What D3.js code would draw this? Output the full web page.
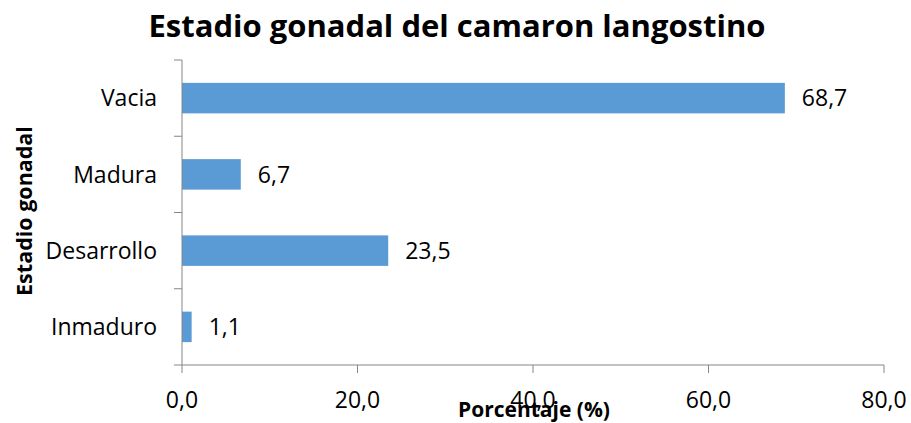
<!DOCTYPE html>
<html>
<head>
<meta charset="utf-8">
<script src="https://cdn.jsdelivr.net/npm/d3@7"></script>
<style>
  body { margin: 0; background: #fff; }
  text { font-family: "Open Sans", "Noto Sans", sans-serif; }
</style>
</head>
<body>
<div id="root"></div>
<script>
// chart data
let categories = ["Vacia", "Madura", "Desarrollo", "Inmaduro"];
let values = [68.7, 6.7, 23.5, 1.1];
let xTicks = [0, 20, 40, 60, 80];

let width = 911, height = 423;
let margin = { top: 60, right: 27, bottom: 58, left: 182 };
let axisColor = "#868686";
let barColor = "#5b9bd5";
let fmt = v => v.toFixed(1).replace(".", ",");

let svg = d3.select("#root").append("svg")
    .attr("width", width)
    .attr("height", height);

let x = d3.scaleLinear()
    .domain([0, 80])
    .range([margin.left, width - margin.right]);

let y = d3.scaleBand()
    .domain(categories)
    .range([margin.top, height - margin.bottom])
    .padding(0);

// title
svg.append("text")
    .attr("x", 457)
    .attr("y", 37)
    .attr("text-anchor", "middle")
    .style("font-weight", "bold")
    .style("font-size", "31px")
    .text("Estadio gonadal del camaron langostino");

// bars
let barH = y.bandwidth() * 0.4;
svg.selectAll(".bar")
    .data(categories)
    .enter().append("rect")
    .attr("class", "bar")
    .attr("x", x(0))
    .attr("y", d => y(d) + (y.bandwidth() - barH) / 2)
    .attr("width", (d, i) => x(values[i]) - x(0))
    .attr("height", barH)
    .style("fill", barColor);

// value labels
svg.selectAll(".val")
    .data(categories)
    .enter().append("text")
    .attr("class", "val")
    .attr("x", (d, i) => x(values[i]) + 17)
    .attr("y", d => y(d) + y.bandwidth() / 2)
    .attr("dy", "0.36em")
    .style("font-size", "23px")
    .style("fill", "#000")
    .text((d, i) => fmt(values[i]));

// y axis
let yAxis = svg.append("g")
    .attr("transform", "translate(" + margin.left + ",0)");
yAxis.append("line")
    .attr("x1", 0).attr("x2", 0)
    .attr("y1", margin.top).attr("y2", height - margin.bottom)
    .style("stroke", axisColor);
let yTickPos = categories.map(d => y(d)).concat([height - margin.bottom]);
yAxis.selectAll(".ytick")
    .data(yTickPos)
    .enter().append("line")
    .attr("x1", -8).attr("x2", 0)
    .attr("y1", d => d).attr("y2", d => d)
    .style("stroke", axisColor);
yAxis.selectAll(".ylab")
    .data(categories)
    .enter().append("text")
    .attr("x", -25)
    .attr("y", d => y(d) + y.bandwidth() / 2)
    .attr("dy", "0.36em")
    .attr("text-anchor", "end")
    .style("font-size", "23px")
    .text(d => d);

// x axis
let xAxis = svg.append("g")
    .attr("transform", "translate(0," + (height - margin.bottom) + ")");
xAxis.append("line")
    .attr("x1", x(0)).attr("x2", x(80))
    .attr("y1", 0).attr("y2", 0)
    .style("stroke", axisColor);
xAxis.selectAll(".xtick")
    .data(xTicks)
    .enter().append("line")
    .attr("x1", d => x(d)).attr("x2", d => x(d))
    .attr("y1", 0).attr("y2", 8)
    .style("stroke", axisColor);
xAxis.selectAll(".xlab")
    .data(xTicks)
    .enter().append("text")
    .attr("x", d => x(d))
    .attr("y", 43)
    .attr("text-anchor", "middle")
    .style("font-size", "23px")
    .text(d => fmt(d));

// axis titles
svg.append("text")
    .attr("x", 534)
    .attr("y", 417)
    .attr("text-anchor", "middle")
    .style("font-weight", "bold")
    .style("font-size", "21px")
    .text("Porcentaje (%)");

svg.append("text")
    .attr("transform", "translate(32,211) rotate(-90)")
    .attr("text-anchor", "middle")
    .style("font-weight", "bold")
    .style("font-size", "21.5px")
    .text("Estadio gonadal");
</script>
</body>
</html>
